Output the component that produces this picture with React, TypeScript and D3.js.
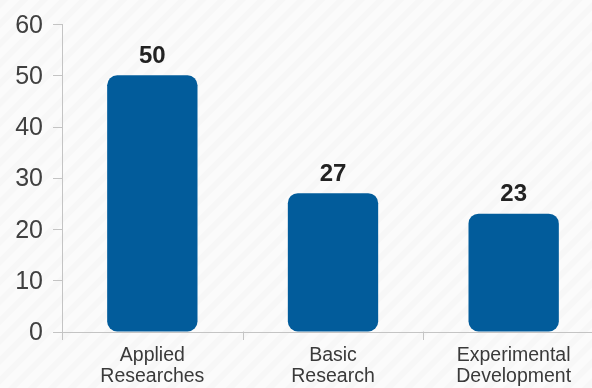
import React from "react";
import * as d3 from "d3";

const categories: string[][] = [
  ["Applied", "Researches"],
  ["Basic", "Research"],
  ["Experimental", "Development"],
];
const values: number[] = [50, 27, 23];
const yTicks: number[] = [0, 10, 20, 30, 40, 50, 60];

const W = 592;
const H = 388;

export default function App() {
  const keys = categories.map((c) => c.join(" "));
  const y = d3.scaleLinear().domain([0, 60]).range([331.5, 24]);
  const x = d3
    .scaleBand<string>()
    .domain(keys)
    .range([62, 604])
    .paddingInner(0.5)
    .paddingOuter(0.25);
  const step = x.step();
  const x0 = 62;
  const axisColor = "#c4c4c4";
  const font = "'Liberation Sans', Arial, Helvetica, sans-serif";

  return (
    <div style={{ position: "fixed", left: 0, top: 0 }}>
      <svg width={W} height={H} style={{ display: "block" }}>
        <defs>
          <pattern
            id="stripes"
            width={14}
            height={14}
            patternUnits="userSpaceOnUse"
            patternTransform="rotate(45)"
          >
            <rect width={14} height={14} fill="#fbfbfb" />
            <rect width={6} height={14} fill="#f7f7f7" />
          </pattern>
        </defs>
        <rect width={W} height={H} fill="url(#stripes)" />

        {/* y axis */}
        <line x1={x0 + 0.5} x2={x0 + 0.5} y1={y(60)} y2={340} stroke={axisColor} strokeWidth={1} />
        {yTicks.map((t) => (
          <g key={t}>
            <line x1={53} x2={x0} y1={Math.round(y(t)) + 0.5} y2={Math.round(y(t)) + 0.5} stroke={axisColor} />
            <text
              x={43}
              y={y(t) + 8.5}
              textAnchor="end"
              fontFamily={font}
              fontSize={25}
              fill="#404040"
            >
              {t}
            </text>
          </g>
        ))}

        {/* x axis */}
        <line x1={x0} x2={W} y1={Math.round(y(0)) + 0.5} y2={Math.round(y(0)) + 0.5} stroke={axisColor} />
        {[0, 1, 2, 3].map((i) => (
          <line
            key={i}
            x1={Math.round(x0 + i * step) + 0.5}
            x2={Math.round(x0 + i * step) + 0.5}
            y1={y(0)}
            y2={340}
            stroke={axisColor}
          />
        ))}

        {/* bars */}
        {values.map((v, i) => {
          const bx = x(keys[i])!;
          const bw = x.bandwidth();
          return (
            <g key={i}>
              <rect
                x={bx}
                y={y(v)}
                width={bw}
                height={y(0) - y(v)}
                rx={10}
                ry={10}
                fill="#025c9b"
              />
              <text
                x={bx + bw / 2}
                y={y(v) - 12.5}
                textAnchor="middle"
                fontFamily={font}
                fontWeight="bold"
                fontSize={24}
                fill="#222"
              >
                {v}
              </text>
            </g>
          );
        })}

        {/* category labels */}
        {categories.map((lines, i) => {
          const cx = x(keys[i])! + x.bandwidth() / 2;
          return (
            <text
              key={i}
              textAnchor="middle"
              fontFamily={font}
              fontSize={19.5}
              fill="#3a3a3a"
            >
              {lines.map((l, j) => (
                <tspan key={j} x={cx} y={361 + j * 20.7}>
                  {l}
                </tspan>
              ))}
            </text>
          );
        })}
      </svg>
    </div>
  );
}
